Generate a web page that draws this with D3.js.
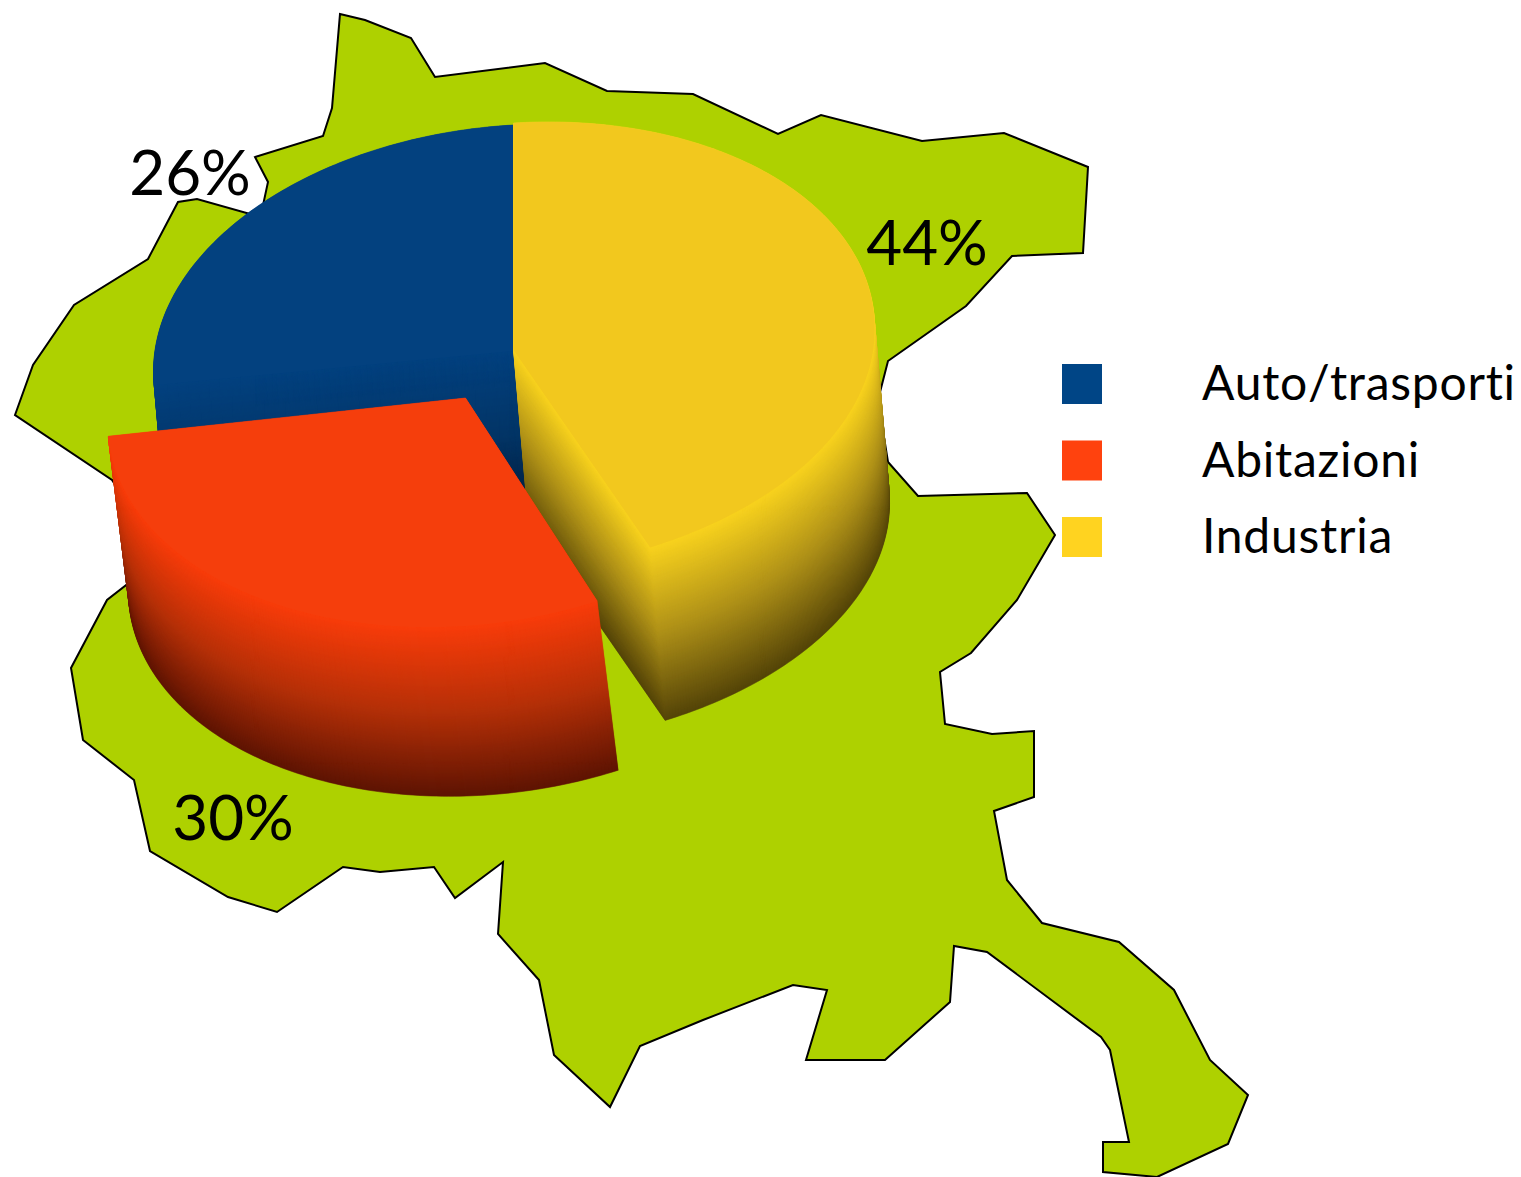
<!DOCTYPE html>
<html><head><meta charset="utf-8">
<style>html,body{margin:0;padding:0;background:#fff}svg{display:block}text{font-family:Lato,"Open Sans",sans-serif;fill:#000;font-variant-ligatures:none}</style>
<script src="https://cdn.jsdelivr.net/npm/d3@7"></script>
</head><body><svg id="c" width="1521" height="1177"></svg>
<script>
const categories=["Auto/trasporti","Abitazioni","Industria"];
const values=[26,30,44];
const percentLabels=["26%","30%","44%"];
const legendColors=["#004586","#FF420E","#FFD320"];
const topColors=["#03417F","#F53E0C","#F2C81E"];
const rimColors=["#03417F","#F83C0A","#F8D21E"];
const midColors=["#033566","#B53008","#AE9018"];
const deepColors=["#021C3A","#5E1403","#544408"];
const mapOutline=[[340,14],[365,20],[411,38],[435,77],[545,63],[607,91],[693,94],[778,134],[821,115],[922,141],[1004,133],[1088,167],[1083,253],[1012,256],[966,306],[888,361],[878,400],[888,462],[918,496],[1027,493],[1055,535],[1017,600],[971,653],[940,672],[945,724],[992,734],[1034,731],[1034,797],[994,811],[1007,880],[1042,923],[1119,942],[1174,990],[1210,1060],[1248,1095],[1228,1144],[1157,1177],[1103,1172],[1103,1142],[1129,1142],[1110,1050],[1101,1037],[987,952],[954,946],[950,1002],[885,1060],[806,1060],[827,990],[793,985],[703,1020],[640,1046],[610,1107],[554,1055],[539,980],[498,934],[503,862],[455,898],[434,867],[380,872],[343,867],[277,912],[228,897],[150,851],[134,780],[83,740],[71,668],[107,600],[130,582],[125,500],[112,480],[15,415],[33,365],[74,305],[148,259],[178,202],[197,199],[250,214],[262,210],[268,182],[255,157],[323,136],[332,108]];

const svg=d3.select("#c");
svg.append("path").attr("d",d3.line().curve(d3.curveLinearClosed)(mapOutline))
  .attr("fill","#AED100").attr("stroke","#000").attr("stroke-width",2).attr("stroke-linejoin","miter");

const geom=[
 {x:513.5,y:351,rx:360,ryUp:226,ryLow:226,tilt:20,skew:0,dx:15,dy:168},
 {x:465.5,y:398,rx:358,ryUp:227,ryLow:228,tilt:24,skew:0,dx:21,dy:169},
 {x:513.5,y:350,rx:361,ryUp:227,ryLow:221,tilt:22,skew:4,dx:15,dy:173}
];
const order=[2,1,0];
const pie=d3.pie().sort(null).value(i=>values[i]);
const arcs=pie(order);
const byCat={}; arcs.forEach(a=>byCat[a.data]=a);
function ring(cat,t){
  const a=byCat[cat], g=geom[cat];
  const ox=g.dx*t, oy=g.dy*t;
  const pts=[[g.x+ox,g.y+oy]];
  const n=Math.max(24,Math.round((a.endAngle-a.startAngle)*60));
  d3.range(n+1).forEach(i=>{
    const th=a.startAngle+(a.endAngle-a.startAngle)*i/n;
    const s=Math.sin(th), k=Math.cos(th);
    const low=k<0;
    pts.push([g.x+g.rx*s+(low?-k*g.skew:0)+ox, g.y-(low?g.ryLow:g.ryUp)*k-g.tilt*s+oy]);
  });
  return d3.line().curve(d3.curveLinearClosed)(pts);
}
[0,2,1].forEach(cat=>{
  const col=d3.scaleLinear().domain([0,0.5,1]).range([rimColors[cat],midColors[cat],deepColors[cat]]).interpolate(d3.interpolateRgb);
  const g=svg.append("g");
  const steps=geom[cat].dy;
  d3.range(steps,-1,-1).forEach(i=>{
    const t=i/steps;
    g.append("path").attr("d",ring(cat,t)).attr("fill",col(t)).attr("stroke",col(t)).attr("stroke-width",0.6);
  });
  g.append("path").attr("d",ring(cat,0)).attr("fill",topColors[cat]);
});

const labelPos=[[190,195],[233,840],[927,265]];
svg.selectAll("text.pct").data(percentLabels).join("text").attr("class","pct")
  .attr("x",(d,i)=>labelPos[i][0]).attr("y",(d,i)=>labelPos[i][1]).attr("text-anchor","middle")
  .attr("font-size",62).text(d=>d);

const y=d3.scalePoint().domain(categories).range([384,537]);
const lg=svg.selectAll("g.lg").data(categories).join("g").attr("class","lg");
lg.append("rect").attr("x",1062).attr("y",d=>y(d)-20).attr("width",40).attr("height",40).attr("fill",(d,i)=>legendColors[i]);
lg.append("text").attr("x",1202).attr("y",d=>y(d)+16).attr("font-size",48).attr("letter-spacing",0.75).text(d=>d);
</script></body></html>
